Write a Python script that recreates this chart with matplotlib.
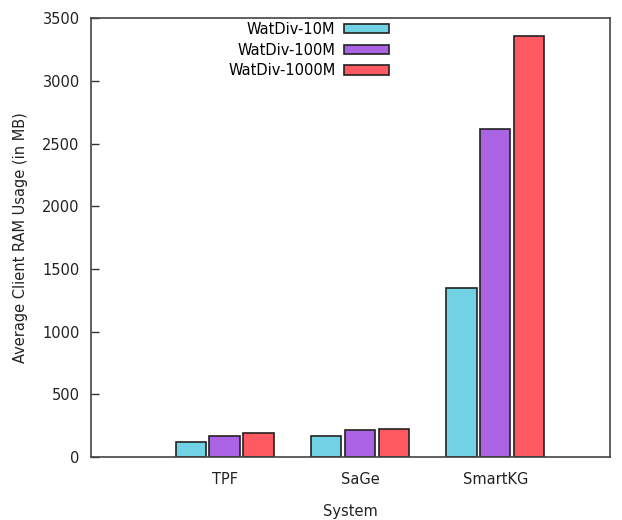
import numpy as np
import matplotlib.pyplot as plt

plt.rcParams["font.family"] = ["DejaVu Sans"]

systems = ["TPF", "SaGe", "SmartKG"]
series = ["WatDiv-10M", "WatDiv-100M", "WatDiv-1000M"]
ram_10m = [117, 170, 1352]
ram_100m = [170, 213, 2617]
ram_1000m = [191, 221, 3358]
colors = ["#70d2e4", "#aa63e2", "#ff5a62"]

fig = plt.figure(figsize=(6.22, 5.2), dpi=100)
ax = fig.add_axes([0.146, 0.121, 0.835, 0.844])

x = np.arange(len(systems))
step = 0.25
width = 0.225
for i, (vals, name) in enumerate(zip([ram_10m, ram_100m, ram_1000m], series)):
    ax.bar(x + (i - 1) * step, vals, width, color=colors[i], edgecolor="#222222",
           linewidth=1.2, label=name, zorder=2)

ax.set_xlim(-0.99, 2.85)
ax.set_ylim(0, 3500)
ax.set_yticks(np.arange(0, 3501, 500))
ax.set_xticks(x)
ax.set_xticklabels(systems)
ax.tick_params(axis="y", direction="in", length=6, width=1, colors="#333333",
               labelcolor="#222222", labelsize=10.5, pad=8)
ax.tick_params(axis="x", length=0, labelsize=10.5, labelcolor="#222222", pad=11)
for sp in ax.spines.values():
    sp.set_color("#444444")
    sp.set_linewidth(1.2)

ax.set_xlabel("System", fontsize=10.5, color="#222222", labelpad=12)
ax.set_ylabel("Average Client RAM Usage (in MB)", fontsize=10.5, color="#222222", labelpad=10)

ax.legend(loc="upper right", bbox_to_anchor=(0.647, 0.983), bbox_transform=fig.transFigure,
          frameon=False, markerfirst=False, fontsize=10.5, handlelength=3.1,
          handleheight=0.6, labelspacing=0.38, handletextpad=0.6)

fig.savefig("out.png", dpi=100)
